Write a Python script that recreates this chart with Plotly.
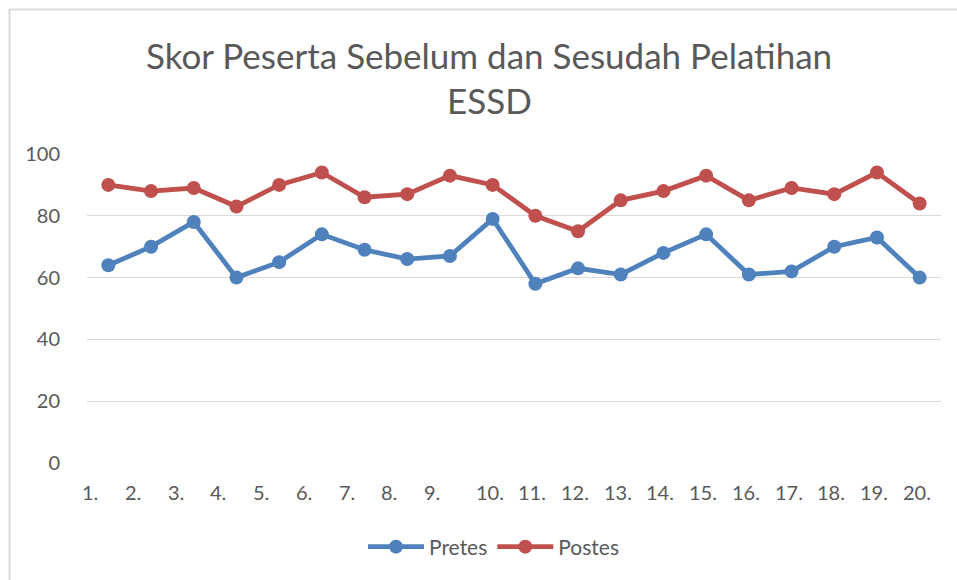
import plotly.graph_objects as go

categories = ["1.", "2.", "3.", "4.", "5.", "6.", "7.", "8.", "9.", "10.",
              "11.", "12.", "13.", "14.", "15.", "16.", "17.", "18.", "19.", "20."]
pretes = [64, 70, 78, 60, 65, 74, 69, 66, 67, 79, 58, 63, 61, 68, 74, 61, 62, 70, 73, 60]
postes = [90, 88, 89, 83, 90, 94, 86, 87, 93, 90, 80, 75, 85, 88, 93, 85, 89, 87, 94, 84]
y_ticks = [0, 20, 40, 60, 80, 100]
title_lines = ["Skor Peserta Sebelum dan Sesudah Pelatihan", "ESSD"]

W, H = 957, 580
L, R, T, B = 87, 16, 154, 117

xs = list(range(1, len(categories) + 1))

font = "Lato, 'Open Sans', sans-serif"
grey = "#595959"
fig = go.Figure()
fig.add_trace(go.Scatter(x=xs, y=pretes, name="Pretes", mode="lines+markers",
                         line=dict(color="#4F81BD", width=4.8),
                         marker=dict(size=14, color="#4F81BD")))
fig.add_trace(go.Scatter(x=xs, y=postes, name="Postes", mode="lines+markers",
                         line=dict(color="#C0504D", width=4.8),
                         marker=dict(size=14, color="#C0504D")))

pw = W - L - R
ph = H - T - B
fig.add_shape(type="rect", xref="paper", yref="paper",
              x0=(9.5 - L) / pw, x1=(975 - L) / pw,
              y0=(H - B - 620) / ph, y1=(H - B - 9.5) / ph,
              line=dict(color="#d9d9d9", width=2), layer="below")

for txt, yc in zip(title_lines, [55, 100]):
    fig.add_annotation(text=txt, xref="paper", yref="paper",
                       x=(489 - L) / pw, y=(H - B - yc) / ph,
                       xanchor="center", yanchor="middle", showarrow=False,
                       font=dict(size=35, color=grey, family=font))

# category labels (drawn on the x axis scale)
for xv, c in zip(xs, categories):
    fig.add_annotation(text=c, x=xv, xref="x", y=0, yref="paper",
                       xanchor="center", yanchor="middle", showarrow=False,
                       xshift=-18 if len(c) == 2 else -3, yshift=-29,
                       font=dict(size=20, color=grey, family=font))

fig.update_layout(
    width=W, height=H,
    margin=dict(l=L, r=R, t=T, b=B, pad=0),
    paper_bgcolor="white", plot_bgcolor="white",
    font=dict(family=font, color=grey, size=18),
    showlegend=True,
    legend=dict(orientation="h", xref="container", yref="container",
                x=494 / W, xanchor="center", y=1 - 547 / H, yanchor="middle",
                font=dict(size=21, color=grey), itemwidth=56),
    xaxis=dict(range=[0.5, 20.5], tickmode="array", tickvals=xs,
               showticklabels=False,
               showgrid=False, zeroline=False, showline=False,
               automargin=False, fixedrange=True),
    yaxis=dict(range=[0, 100], tickmode="array", tickvals=y_ticks,
               showgrid=True, gridcolor="#d9d9d9", gridwidth=1,
               zeroline=False, showline=False, automargin=False,
               ticks="outside", ticklen=22, tickcolor="rgba(0,0,0,0)",
               tickfont=dict(size=20, color=grey), fixedrange=True),
)

fig.write_html("out.html", config={"displayModeBar": False},
               post_script="document.body.style.margin='0';")
